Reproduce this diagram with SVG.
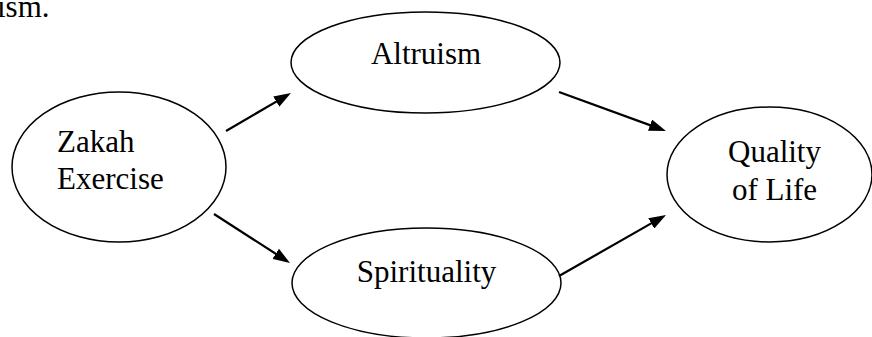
<svg xmlns="http://www.w3.org/2000/svg" width="872" height="337" viewBox="0 0 872 337">
<style>
.node ellipse{fill:#fff;stroke:#000;stroke-width:1.5}
text{font-family:"Liberation Serif","Times New Roman",serif;font-size:31px;fill:#000}
.c line{stroke:#000;stroke-width:2.2}
</style>
<defs>
<marker id="ah" markerUnits="userSpaceOnUse" markerWidth="17" markerHeight="12" viewBox="0 0 17 12" refX="5" refY="6" orient="auto">
<path d="M0,0 L17,6 L0,12 z" fill="#000"/>
</marker>
</defs>
<rect width="872" height="337" fill="#fff"/>
<text x="-3" y="17">ism.</text>
<g id="zakah" class="node">
<ellipse cx="119" cy="167" rx="107" ry="75"/>
<text x="57" y="152">Zakah</text>
<text x="57" y="189">Exercise</text>
</g>
<g id="altruism" class="node">
<ellipse cx="425.5" cy="62.5" rx="134.5" ry="50.5"/>
<text x="426" y="64" text-anchor="middle">Altruism</text>
</g>
<g id="spirituality" class="node">
<ellipse cx="426.5" cy="283" rx="134.5" ry="55"/>
<text x="426.5" y="282" text-anchor="middle">Spirituality</text>
</g>
<g id="qol" class="node">
<ellipse cx="769.5" cy="174.5" rx="102.5" ry="67.5"/>
<text x="774.5" y="162" text-anchor="middle">Quality</text>
<text x="774.5" y="200" text-anchor="middle">of Life</text>
</g>
<g id="connectors" class="c">
<line x1="226" y1="131" x2="280.6" y2="99.1" marker-end="url(#ah)"/>
<line x1="214" y1="214" x2="279.9" y2="256.5" marker-end="url(#ah)"/>
<line x1="559" y1="92" x2="654.7" y2="126.9" marker-end="url(#ah)"/>
<line x1="559" y1="276" x2="655.6" y2="220.9" marker-end="url(#ah)"/>
</g>
</svg>
